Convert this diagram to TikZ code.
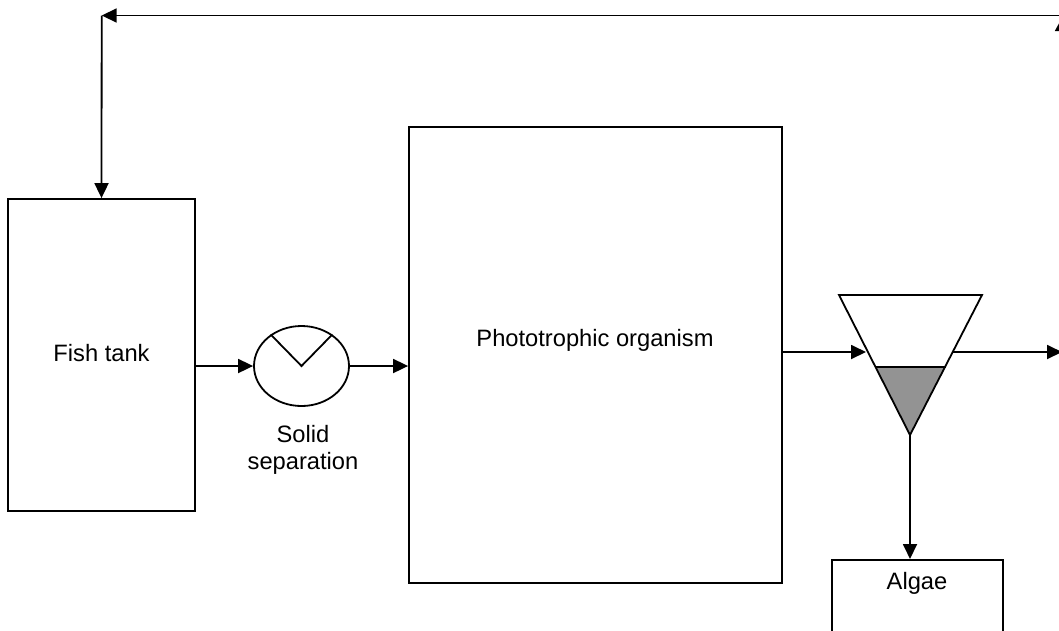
\documentclass[tikz,border=0pt]{standalone}
\usepackage{fontspec}
\setmainfont{Liberation Sans}
\usetikzlibrary{arrows.meta,shapes.geometric}
\begin{document}
\begin{tikzpicture}[x=1pt,y=-1pt,
  line width=1.8pt,
  font=\fontsize{23.7}{27}\selectfont,
  box/.style={draw,rectangle,inner sep=0pt},
  arr/.style={-{Triangle[length=15pt,width=14pt]}},
  lbl/.style={inner sep=0pt,align=center}]
\useasboundingbox (0,0) rectangle (1059,630);
\clip (0,0) rectangle (1059,630);

% process units
\node[box,minimum width=187pt,minimum height=312pt] (fish) at (101.5,355) {};
\node[lbl] (fishtxt) at (101.5,353) {Fish tank};
\node[draw,ellipse,minimum width=95pt,minimum height=80pt,inner sep=0pt] (sep) at (301.5,366) {};
\node[lbl] (septxt) at (303,450) {Solid\\separation};
\node[box,minimum width=373pt,minimum height=456pt] (photo) at (595.5,355) {};
\node[lbl] (phototxt) at (595,340) {Phototrophic organism};
\node[box,minimum width=171pt,minimum height=120pt,anchor=north] (algae) at (917.5,559) {};
\node[lbl] (algaetxt) at (917,583) {Algae};

% separator mark
\draw (270.7,334.5) -- (sep.center) -- (332.3,334.5);

% settling cone with the settled algae layer
\coordinate (ctl) at (839,295);
\coordinate (ctr) at (982,295);
\coordinate (ctip) at (910,435);
\coordinate (cll) at (875.5,367);
\coordinate (clr) at (945.5,367);
\fill[gray!85!white] (cll) -- (clr) -- (ctip) -- cycle;
\draw (ctl) -- (ctr) -- (ctip) -- cycle;
\draw (cll) -- (clr);
\coordinate (cin) at (866,352);
\coordinate (cout) at (952,352);
\coordinate (outlet) at (1062,352);

% flows
\draw[arr] (fish.east |- sep.west) -- (sep.west);
\draw[arr] (sep.east) -- (photo.west |- sep.east);
\draw[arr] (photo.east |- cin) -- (cin);
\draw[arr] (cout) -- (outlet);
\draw[arr] (ctip) -- (algae.north -| ctip);

% water return to the fish tank
\coordinate (rfar) at (1062,15.5);
\coordinate (rcorner) at (101.7,15.5);
\draw[arr] (rfar) -- (rcorner);
\draw[arr] (rcorner) -- (fish.north);
\coordinate (rlow) at (1062,80);
\coordinate (rup) at (1062,18);
\draw[-{Triangle[length=13pt,width=14pt]}] (rlow) -- (rup);
\end{tikzpicture}
\end{document}
